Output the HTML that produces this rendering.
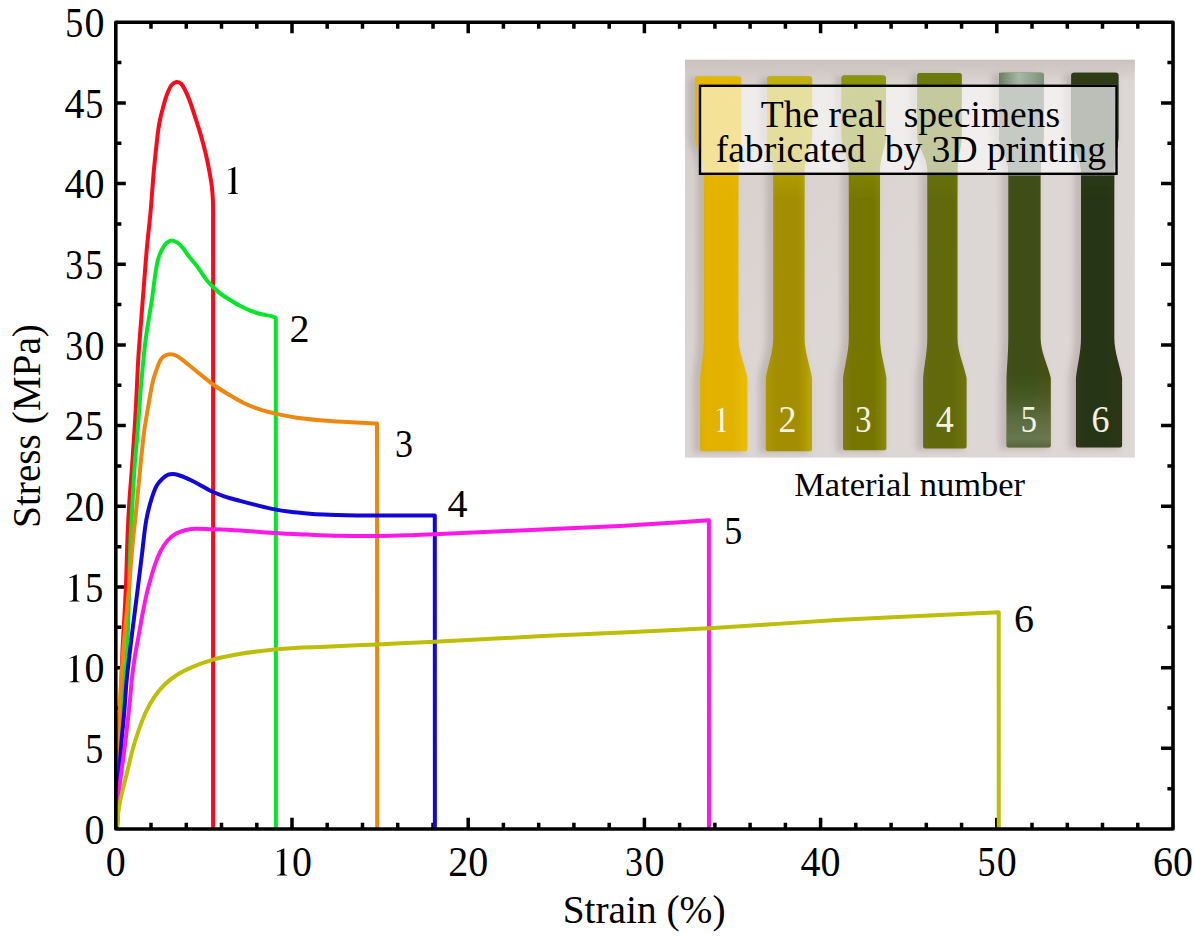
<!DOCTYPE html>
<html><head><meta charset="utf-8"><style>
html,body{margin:0;padding:0;background:#fff;overflow:hidden;width:1194px;height:939px;}
svg{display:block;}
text{font-family:"Liberation Serif",serif;fill:#000;}
</style></head><body>
<svg width="1194" height="939" viewBox="0 0 1194 939">
<defs><linearGradient id="bg" x1="0" y1="0" x2="1" y2="1"><stop offset="0" stop-color="#d6cfcc"/><stop offset="0.5" stop-color="#dcd6d4"/><stop offset="1" stop-color="#ddd7d5"/></linearGradient><linearGradient id="bgtop" x1="0" y1="0" x2="0" y2="1"><stop offset="0" stop-color="#c8c0bc" stop-opacity="0.9"/><stop offset="1" stop-color="#c8c0bc" stop-opacity="0"/></linearGradient><filter id="blur3" x="-20%" y="-5%" width="140%" height="110%"><feGaussianBlur stdDeviation="3"/></filter><filter id="blur1" x="-5%" y="-5%" width="110%" height="110%"><feGaussianBlur stdDeviation="0.6"/></filter><linearGradient id="g5hl" x1="0" y1="0" x2="0" y2="1"><stop offset="0" stop-color="#8c9c8a" stop-opacity="0"/><stop offset="0.3" stop-color="#8c9c8a" stop-opacity="0.12"/><stop offset="0.6" stop-color="#98a896" stop-opacity="0.32"/><stop offset="0.88" stop-color="#a0b09e" stop-opacity="0.42"/><stop offset="1" stop-color="#8c9c8a" stop-opacity="0.3"/></linearGradient><linearGradient id="g5top" x1="0" y1="0" x2="1" y2="0"><stop offset="0" stop-color="#6a7e62"/><stop offset="0.45" stop-color="#a8b8a8"/><stop offset="1" stop-color="#7e9078"/></linearGradient><linearGradient id="sg0" x1="0" y1="0" x2="1" y2="0"><stop offset="0" stop-color="#dcaa00"/><stop offset="0.25" stop-color="#e2b200"/><stop offset="0.7" stop-color="#e2b200"/><stop offset="1" stop-color="#eabe02"/></linearGradient><linearGradient id="sg1" x1="0" y1="0" x2="1" y2="0"><stop offset="0" stop-color="#ae9806"/><stop offset="0.25" stop-color="#a28e02"/><stop offset="0.7" stop-color="#a28e02"/><stop offset="1" stop-color="#bca808"/></linearGradient><linearGradient id="sg2" x1="0" y1="0" x2="1" y2="0"><stop offset="0" stop-color="#847a10"/><stop offset="0.25" stop-color="#747602"/><stop offset="0.7" stop-color="#747602"/><stop offset="1" stop-color="#8a8a0a"/></linearGradient><linearGradient id="sg3" x1="0" y1="0" x2="1" y2="0"><stop offset="0" stop-color="#666a24"/><stop offset="0.25" stop-color="#616a0e"/><stop offset="0.7" stop-color="#616a0e"/><stop offset="1" stop-color="#6e7406"/></linearGradient><linearGradient id="sg4" x1="0" y1="0" x2="1" y2="0"><stop offset="0" stop-color="#4a4c18"/><stop offset="0.25" stop-color="#3e5014"/><stop offset="0.7" stop-color="#3e5014"/><stop offset="1" stop-color="#4a5010"/></linearGradient><linearGradient id="sg5" x1="0" y1="0" x2="1" y2="0"><stop offset="0" stop-color="#343826"/><stop offset="0.25" stop-color="#283414"/><stop offset="0.7" stop-color="#283414"/><stop offset="1" stop-color="#2e3412"/></linearGradient></defs>
<rect x="685.0" y="59.8" width="449.8" height="397.8" fill="url(#bg)"/>
<rect x="685.0" y="59.8" width="449.8" height="22" fill="url(#bgtop)"/>
<path d="M690.6,77.4 L735.7,77.4 Q738.2,77.4 738.2,79.9 L738.2,136 C738.2,148 735.5,156 735.5,170 L735.5,338 C735.5,352 742.2,366 744.4,378 L744.4,451.2 Q744.4,453.2 742.4,453.2 L695.2,453.2 Q693.2,453.2 693.2,451.2 L693.2,378 C694.2,366 697.0,352 697.0,338 L697.0,170 C697.0,156 688.1,148 688.1,136 L688.1,79.9 Q688.1,77.4 690.6,77.4 Z" fill="#a49a96" opacity="0.5" filter="url(#blur3)"/>
<path d="M762.5,77.4 L806.6,77.4 Q809.1,77.4 809.1,79.9 L809.1,136 C809.1,148 801.6,156 801.6,170 L801.6,338 C801.6,352 807.1,366 809.0,378 L809.0,451.2 Q809.0,453.2 807.0,453.2 L760.8,453.2 Q758.8,453.2 758.8,451.2 L758.8,378 C760.6,366 766.2,352 766.2,338 L766.2,170 C766.2,156 760.0,148 760.0,136 L760.0,79.9 Q760.0,77.4 762.5,77.4 Z" fill="#a49a96" opacity="0.5" filter="url(#blur3)"/>
<path d="M837.1,76.5 L880.3,76.5 Q882.8,76.5 882.8,79.0 L882.8,136 C882.8,148 877.0,156 877.0,170 L877.0,338 C877.0,352 881.8,366 883.4,378 L883.4,450.3 Q883.4,452.3 881.4,452.3 L838.0,452.3 Q836.0,452.3 836.0,450.3 L836.0,378 C837.5,366 841.8,352 841.8,338 L841.8,170 C841.8,156 834.6,148 834.6,136 L834.6,79.0 Q834.6,76.5 837.1,76.5 Z" fill="#a49a96" opacity="0.5" filter="url(#blur3)"/>
<path d="M912.9,74.0 L956.1,74.0 Q958.6,74.0 958.6,76.5 L958.6,136 C958.6,148 954.5,156 954.5,170 L954.5,338 C954.5,352 961.3,366 963.6,378 L963.6,448.5 Q963.6,450.5 961.6,450.5 L918.1,450.5 Q916.1,450.5 916.1,448.5 L916.1,378 C917.1,366 920.3,352 920.3,338 L920.3,170 C920.3,156 910.4,148 910.4,136 L910.4,76.5 Q910.4,74.0 912.9,74.0 Z" fill="#a49a96" opacity="0.5" filter="url(#blur3)"/>
<path d="M994.5,73.8 L1038.0,73.8 Q1040.5,73.8 1040.5,76.3 L1040.5,136 C1040.5,148 1037.6,156 1037.6,170 L1037.6,338 C1037.6,352 1045.2,366 1047.8,378 L1047.8,447.5 Q1047.8,449.5 1045.8,449.5 L1001.5,449.5 Q999.5,449.5 999.5,447.5 L999.5,378 C1000.0,366 1001.3,352 1001.3,338 L1001.3,170 C1001.3,156 992.0,148 992.0,136 L992.0,76.3 Q992.0,73.8 994.5,73.8 Z" fill="#a49a96" opacity="0.5" filter="url(#blur3)"/>
<path d="M1066.8,73.8 L1112.9,73.8 Q1115.4,73.8 1115.4,76.3 L1115.4,136 C1115.4,148 1111.3,156 1111.3,170 L1111.3,338 C1111.3,352 1117.1,366 1119.1,378 L1119.1,447.5 Q1119.1,449.5 1117.1,449.5 L1070.9,449.5 Q1068.9,449.5 1068.9,447.5 L1068.9,378 C1070.2,366 1074.0,352 1074.0,338 L1074.0,170 C1074.0,156 1064.3,148 1064.3,136 L1064.3,76.3 Q1064.3,73.8 1066.8,73.8 Z" fill="#a49a96" opacity="0.5" filter="url(#blur3)"/>
<path d="M697.6,76.4 L738.7,76.4 Q741.2,76.4 741.2,78.9 L741.2,136 C741.2,148 738.5,156 738.5,170 L738.5,338 C738.5,352 745.2,366 747.4,378 L747.4,449.2 Q747.4,451.2 745.4,451.2 L702.2,451.2 Q700.2,451.2 700.2,449.2 L700.2,378 C701.2,366 704.0,352 704.0,338 L704.0,170 C704.0,156 695.1,148 695.1,136 L695.1,78.9 Q695.1,76.4 697.6,76.4 Z" fill="url(#sg0)" filter="url(#blur1)"/>
<linearGradient id="tg0" gradientUnits="userSpaceOnUse" x1="0" y1="76.4" x2="0" y2="200"><stop offset="0" stop-color="#e4b800" stop-opacity="1"/><stop offset="0.6" stop-color="#e4b800" stop-opacity="0.8"/><stop offset="1" stop-color="#e4b800" stop-opacity="0"/></linearGradient>
<path d="M697.6,76.4 L738.7,76.4 Q741.2,76.4 741.2,78.9 L741.2,136 C741.2,148 738.5,156 738.5,170 L738.5,338 C738.5,352 745.2,366 747.4,378 L747.4,449.2 Q747.4,451.2 745.4,451.2 L702.2,451.2 Q700.2,451.2 700.2,449.2 L700.2,378 C701.2,366 704.0,352 704.0,338 L704.0,170 C704.0,156 695.1,148 695.1,136 L695.1,78.9 Q695.1,76.4 697.6,76.4 Z" fill="url(#tg0)" filter="url(#blur1)"/>
<path d="M723.27,407.43 L716.61,410.40 L716.70,410.94 L717.96,410.49 L720.03,410.04 L720.03,429.30 L719.76,430.56 L718.32,431.28 L716.70,431.46 L716.70,432.00 L725.79,432.00 L725.79,431.46 L724.44,431.28 L723.54,430.65 L723.27,429.30 Z" fill="#f6f2e2"/>
<path d="M769.5,76.4 L809.6,76.4 Q812.1,76.4 812.1,78.9 L812.1,136 C812.1,148 804.6,156 804.6,170 L804.6,338 C804.6,352 810.1,366 812.0,378 L812.0,449.2 Q812.0,451.2 810.0,451.2 L767.8,451.2 Q765.8,451.2 765.8,449.2 L765.8,378 C767.6,366 773.2,352 773.2,338 L773.2,170 C773.2,156 767.0,148 767.0,136 L767.0,78.9 Q767.0,76.4 769.5,76.4 Z" fill="url(#sg1)" filter="url(#blur1)"/>
<linearGradient id="tg1" gradientUnits="userSpaceOnUse" x1="0" y1="76.4" x2="0" y2="200"><stop offset="0" stop-color="#c2b010" stop-opacity="1"/><stop offset="0.6" stop-color="#c2b010" stop-opacity="0.8"/><stop offset="1" stop-color="#c2b010" stop-opacity="0"/></linearGradient>
<path d="M769.5,76.4 L809.6,76.4 Q812.1,76.4 812.1,78.9 L812.1,136 C812.1,148 804.6,156 804.6,170 L804.6,338 C804.6,352 810.1,366 812.0,378 L812.0,449.2 Q812.0,451.2 810.0,451.2 L767.8,451.2 Q765.8,451.2 765.8,449.2 L765.8,378 C767.6,366 773.2,352 773.2,338 L773.2,170 C773.2,156 767.0,148 767.0,136 L767.0,78.9 Q767.0,76.4 769.5,76.4 Z" fill="url(#tg1)" filter="url(#blur1)"/>
<text transform="translate(787.60,432.00) scale(1.000,1.065)" x="0" y="0" text-anchor="middle" font-family="Liberation Serif" font-size="36.0" style="fill:#f6f2e2">2</text>
<path d="M844.1,75.5 L883.3,75.5 Q885.8,75.5 885.8,78.0 L885.8,136 C885.8,148 880.0,156 880.0,170 L880.0,338 C880.0,352 884.8,366 886.4,378 L886.4,448.3 Q886.4,450.3 884.4,450.3 L845.0,450.3 Q843.0,450.3 843.0,448.3 L843.0,378 C844.5,366 848.8,352 848.8,338 L848.8,170 C848.8,156 841.6,148 841.6,136 L841.6,78.0 Q841.6,75.5 844.1,75.5 Z" fill="url(#sg2)" filter="url(#blur1)"/>
<linearGradient id="tg2" gradientUnits="userSpaceOnUse" x1="0" y1="75.5" x2="0" y2="200"><stop offset="0" stop-color="#8c940e" stop-opacity="1"/><stop offset="0.6" stop-color="#8c940e" stop-opacity="0.8"/><stop offset="1" stop-color="#8c940e" stop-opacity="0"/></linearGradient>
<path d="M844.1,75.5 L883.3,75.5 Q885.8,75.5 885.8,78.0 L885.8,136 C885.8,148 880.0,156 880.0,170 L880.0,338 C880.0,352 884.8,366 886.4,378 L886.4,448.3 Q886.4,450.3 884.4,450.3 L845.0,450.3 Q843.0,450.3 843.0,448.3 L843.0,378 C844.5,366 848.8,352 848.8,338 L848.8,170 C848.8,156 841.6,148 841.6,136 L841.6,78.0 Q841.6,75.5 844.1,75.5 Z" fill="url(#tg2)" filter="url(#blur1)"/>
<text transform="translate(863.30,432.00) scale(0.900,1.065)" x="0" y="0" text-anchor="middle" font-family="Liberation Serif" font-size="36.0" style="fill:#f6f2e2">3</text>
<path d="M919.9,73.0 L959.1,73.0 Q961.6,73.0 961.6,75.5 L961.6,136 C961.6,148 957.5,156 957.5,170 L957.5,338 C957.5,352 964.3,366 966.6,378 L966.6,446.5 Q966.6,448.5 964.6,448.5 L925.1,448.5 Q923.1,448.5 923.1,446.5 L923.1,378 C924.1,366 927.3,352 927.3,338 L927.3,170 C927.3,156 917.4,148 917.4,136 L917.4,75.5 Q917.4,73.0 919.9,73.0 Z" fill="url(#sg3)" filter="url(#blur1)"/>
<linearGradient id="tg3" gradientUnits="userSpaceOnUse" x1="0" y1="73.0" x2="0" y2="200"><stop offset="0" stop-color="#6c7a10" stop-opacity="1"/><stop offset="0.6" stop-color="#6c7a10" stop-opacity="0.8"/><stop offset="1" stop-color="#6c7a10" stop-opacity="0"/></linearGradient>
<path d="M919.9,73.0 L959.1,73.0 Q961.6,73.0 961.6,75.5 L961.6,136 C961.6,148 957.5,156 957.5,170 L957.5,338 C957.5,352 964.3,366 966.6,378 L966.6,446.5 Q966.6,448.5 964.6,448.5 L925.1,448.5 Q923.1,448.5 923.1,446.5 L923.1,378 C924.1,366 927.3,352 927.3,338 L927.3,170 C927.3,156 917.4,148 917.4,136 L917.4,75.5 Q917.4,73.0 919.9,73.0 Z" fill="url(#tg3)" filter="url(#blur1)"/>
<text transform="translate(944.70,432.00) scale(1.000,1.065)" x="0" y="0" text-anchor="middle" font-family="Liberation Serif" font-size="36.0" style="fill:#f6f2e2">4</text>
<path d="M1001.5,72.8 L1041.0,72.8 Q1043.5,72.8 1043.5,75.3 L1043.5,136 C1043.5,148 1040.6,156 1040.6,170 L1040.6,338 C1040.6,352 1048.2,366 1050.8,378 L1050.8,445.5 Q1050.8,447.5 1048.8,447.5 L1008.5,447.5 Q1006.5,447.5 1006.5,445.5 L1006.5,378 C1007.0,366 1008.3,352 1008.3,338 L1008.3,170 C1008.3,156 999.0,148 999.0,136 L999.0,75.3 Q999.0,72.8 1001.5,72.8 Z" fill="url(#sg4)" filter="url(#blur1)"/>
<clipPath id="cp4"><path d="M1001.5,72.8 L1041.0,72.8 Q1043.5,72.8 1043.5,75.3 L1043.5,136 C1043.5,148 1040.6,156 1040.6,170 L1040.6,338 C1040.6,352 1048.2,366 1050.8,378 L1050.8,445.5 Q1050.8,447.5 1048.8,447.5 L1008.5,447.5 Q1006.5,447.5 1006.5,445.5 L1006.5,378 C1007.0,366 1008.3,352 1008.3,338 L1008.3,170 C1008.3,156 999.0,148 999.0,136 L999.0,75.3 Q999.0,72.8 1001.5,72.8 Z"/></clipPath>
<rect x="997.0" y="84" width="48.5" height="92" fill="#6e7e6c" clip-path="url(#cp4)" filter="url(#blur1)"/>
<rect x="1006.5" y="374" width="44.3" height="73.5" fill="url(#g5hl)"/>
<rect x="999.0" y="72.8" width="44.5" height="14" fill="url(#g5top)"/>
<text transform="translate(1028.80,432.00) scale(0.900,1.065)" x="0" y="0" text-anchor="middle" font-family="Liberation Serif" font-size="36.0" style="fill:#f6f2e2">5</text>
<path d="M1073.8,72.8 L1115.9,72.8 Q1118.4,72.8 1118.4,75.3 L1118.4,136 C1118.4,148 1114.3,156 1114.3,170 L1114.3,338 C1114.3,352 1120.1,366 1122.1,378 L1122.1,445.5 Q1122.1,447.5 1120.1,447.5 L1077.9,447.5 Q1075.9,447.5 1075.9,445.5 L1075.9,378 C1077.2,366 1081.0,352 1081.0,338 L1081.0,170 C1081.0,156 1071.3,148 1071.3,136 L1071.3,75.3 Q1071.3,72.8 1073.8,72.8 Z" fill="url(#sg5)" filter="url(#blur1)"/>
<linearGradient id="tg5" gradientUnits="userSpaceOnUse" x1="0" y1="72.8" x2="0" y2="200"><stop offset="0" stop-color="#2e3c18" stop-opacity="1"/><stop offset="0.6" stop-color="#2e3c18" stop-opacity="0.8"/><stop offset="1" stop-color="#2e3c18" stop-opacity="0"/></linearGradient>
<path d="M1073.8,72.8 L1115.9,72.8 Q1118.4,72.8 1118.4,75.3 L1118.4,136 C1118.4,148 1114.3,156 1114.3,170 L1114.3,338 C1114.3,352 1120.1,366 1122.1,378 L1122.1,445.5 Q1122.1,447.5 1120.1,447.5 L1077.9,447.5 Q1075.9,447.5 1075.9,445.5 L1075.9,378 C1077.2,366 1081.0,352 1081.0,338 L1081.0,170 C1081.0,156 1071.3,148 1071.3,136 L1071.3,75.3 Q1071.3,72.8 1073.8,72.8 Z" fill="url(#tg5)" filter="url(#blur1)"/>
<clipPath id="cp5"><path d="M1073.8,72.8 L1115.9,72.8 Q1118.4,72.8 1118.4,75.3 L1118.4,136 C1118.4,148 1114.3,156 1114.3,170 L1114.3,338 C1114.3,352 1120.1,366 1122.1,378 L1122.1,445.5 Q1122.1,447.5 1120.1,447.5 L1077.9,447.5 Q1075.9,447.5 1075.9,445.5 L1075.9,378 C1077.2,366 1081.0,352 1081.0,338 L1081.0,170 C1081.0,156 1071.3,148 1071.3,136 L1071.3,75.3 Q1071.3,72.8 1073.8,72.8 Z"/></clipPath>
<rect x="1069.3" y="84" width="51.1" height="92" fill="#56604c" clip-path="url(#cp5)" filter="url(#blur1)"/>
<text transform="translate(1100.50,432.00) scale(1.000,1.065)" x="0" y="0" text-anchor="middle" font-family="Liberation Serif" font-size="36.0" style="fill:#f6f2e2">6</text>
<rect x="700" y="85.8" width="416.5" height="88" fill="#ffffff" fill-opacity="0.6" stroke="#000" stroke-width="2.4"/>
<text x="910.5" y="127.2" font-family="Liberation Serif"  font-size="37.6" text-anchor="middle" xml:space="preserve">The real  specimens</text>
<text x="910.8" y="161.7" font-family="Liberation Serif"  font-size="37.6" text-anchor="middle" xml:space="preserve">fabricated  by 3D printing</text>
<text x="909.6" y="496.4" font-family="Liberation Serif"  font-size="34.5" text-anchor="middle">Material number</text>
<path d="M151.0,829.0v-6.3 M151.0,22.3v6.4 M186.3,829.0v-6.3 M186.3,22.3v6.4 M221.5,829.0v-6.3 M221.5,22.3v6.4 M256.8,829.0v-6.3 M256.8,22.3v6.4 M292.0,829.0v-11.2 M292.0,22.3v11.0 M327.2,829.0v-6.3 M327.2,22.3v6.4 M362.5,829.0v-6.3 M362.5,22.3v6.4 M397.7,829.0v-6.3 M397.7,22.3v6.4 M433.0,829.0v-6.3 M433.0,22.3v6.4 M468.2,829.0v-11.2 M468.2,22.3v11.0 M503.4,829.0v-6.3 M503.4,22.3v6.4 M538.7,829.0v-6.3 M538.7,22.3v6.4 M573.9,829.0v-6.3 M573.9,22.3v6.4 M609.2,829.0v-6.3 M609.2,22.3v6.4 M644.4,829.0v-11.2 M644.4,22.3v11.0 M679.6,829.0v-6.3 M679.6,22.3v6.4 M714.9,829.0v-6.3 M714.9,22.3v6.4 M750.1,829.0v-6.3 M750.1,22.3v6.4 M785.4,829.0v-6.3 M785.4,22.3v6.4 M820.6,829.0v-11.2 M820.6,22.3v11.0 M855.8,829.0v-6.3 M855.8,22.3v6.4 M891.1,829.0v-6.3 M891.1,22.3v6.4 M926.3,829.0v-6.3 M926.3,22.3v6.4 M961.6,829.0v-6.3 M961.6,22.3v6.4 M996.8,829.0v-11.2 M996.8,22.3v11.0 M1032.0,829.0v-6.3 M1032.0,22.3v6.4 M1067.3,829.0v-6.3 M1067.3,22.3v6.4 M1102.5,829.0v-6.3 M1102.5,22.3v6.4 M1137.8,829.0v-6.3 M1137.8,22.3v6.4 M115.8,788.7h5.6 M1173.0,788.7h-5.6 M115.8,748.3h10.0 M1173.0,748.3h-12.0 M115.8,708.0h5.6 M1173.0,708.0h-5.6 M115.8,667.7h10.0 M1173.0,667.7h-12.0 M115.8,627.3h5.6 M1173.0,627.3h-5.6 M115.8,587.0h10.0 M1173.0,587.0h-12.0 M115.8,546.7h5.6 M1173.0,546.7h-5.6 M115.8,506.3h10.0 M1173.0,506.3h-12.0 M115.8,466.0h5.6 M1173.0,466.0h-5.6 M115.8,425.6h10.0 M1173.0,425.6h-12.0 M115.8,385.3h5.6 M1173.0,385.3h-5.6 M115.8,345.0h10.0 M1173.0,345.0h-12.0 M115.8,304.6h5.6 M1173.0,304.6h-5.6 M115.8,264.3h10.0 M1173.0,264.3h-12.0 M115.8,224.0h5.6 M1173.0,224.0h-5.6 M115.8,183.6h10.0 M1173.0,183.6h-12.0 M115.8,143.3h5.6 M1173.0,143.3h-5.6 M115.8,103.0h10.0 M1173.0,103.0h-12.0 M115.8,62.6h5.6 M1173.0,62.6h-5.6" stroke="#000" stroke-width="3.5" fill="none"/>
<path d="M116.80,829.00 C117.07,819.33 117.30,810.44 117.60,800.00 C117.95,787.74 118.35,773.33 118.80,760.00 C119.25,746.67 119.78,735.19 120.30,720.00 C120.99,699.91 121.69,668.46 122.50,650.00 C123.03,637.91 123.64,630.20 124.20,620.00 C124.78,609.38 125.37,599.87 125.90,587.50 C126.60,571.05 127.07,546.37 127.80,530.00 C128.35,517.78 128.88,508.67 129.60,498.00 C130.32,487.30 131.23,478.05 132.10,465.90 C133.24,449.96 134.63,429.04 135.70,410.60 C136.77,392.17 137.57,370.17 138.50,355.30 C139.13,345.23 139.68,339.43 140.40,330.00 C141.32,318.04 142.51,303.02 143.60,289.30 C144.71,275.26 145.78,260.10 147.00,246.70 C148.10,234.70 149.40,224.60 150.50,212.60 C151.72,199.20 152.77,182.31 153.90,170.00 C154.77,160.56 155.69,152.33 156.50,145.00 C157.14,139.25 157.57,134.46 158.30,129.60 C158.96,125.18 159.74,120.91 160.60,117.00 C161.36,113.54 162.27,110.38 163.10,107.30 C163.87,104.47 164.58,101.77 165.40,99.20 C166.16,96.82 166.82,94.68 167.80,92.40 C168.86,89.95 169.96,86.80 171.60,85.00 C172.97,83.50 174.86,82.07 176.50,81.90 C177.99,81.75 179.69,82.53 181.00,83.60 C182.64,84.94 183.72,87.58 185.00,90.00 C186.54,92.91 187.92,96.16 189.40,100.00 C191.34,105.01 193.39,111.73 195.30,117.60 C197.19,123.43 199.10,129.24 200.80,135.10 C202.50,140.94 204.10,146.81 205.50,152.70 C206.89,158.55 208.12,164.50 209.20,170.30 C210.25,175.93 211.28,181.77 211.90,187.00 C212.45,191.59 212.70,195.75 212.90,200.00 C213.09,204.08 213.03,208.00 213.10,212.00 L213.1,829.0" fill="none" stroke="#f80c1c" stroke-width="4.0" stroke-linejoin="round"/>
<path d="M117.00,829.00 C117.33,819.33 117.61,810.44 118.00,800.00 C118.46,787.74 118.97,773.33 119.60,760.00 C120.23,746.66 120.95,732.88 121.80,720.00 C122.60,707.94 123.62,696.67 124.50,685.00 C125.38,673.33 126.43,662.06 127.10,650.00 C127.82,637.12 128.13,624.75 128.60,610.00 C129.18,591.76 129.44,568.68 130.20,548.80 C130.93,529.90 132.09,509.63 133.00,493.50 C133.71,480.94 134.33,469.97 135.10,460.00 C135.72,451.95 136.35,447.13 137.10,438.20 C138.29,423.98 139.80,399.99 141.30,382.90 C142.60,368.10 144.15,351.75 145.40,341.50 C146.14,335.42 146.63,332.67 147.50,327.00 C148.73,318.95 150.82,307.21 152.20,297.80 C153.49,289.02 154.42,279.47 155.60,272.30 C156.47,267.01 157.09,262.65 158.30,258.60 C159.32,255.20 160.59,252.16 162.00,249.50 C163.21,247.22 164.35,245.04 166.00,243.50 C167.53,242.07 169.48,240.56 171.40,240.40 C173.41,240.24 175.89,241.55 177.80,242.80 C179.82,244.13 181.44,246.31 183.10,248.30 C184.82,250.37 186.24,252.82 187.90,255.00 C189.54,257.16 191.31,259.21 193.00,261.30 C194.68,263.37 196.40,265.33 198.00,267.50 C199.64,269.73 201.10,272.20 202.70,274.50 C204.30,276.80 205.84,279.21 207.60,281.30 C209.29,283.30 211.03,284.90 213.00,286.80 C215.25,288.97 217.76,291.54 220.40,293.60 C223.06,295.67 225.89,297.30 228.90,299.20 C232.22,301.29 235.91,303.67 239.50,305.60 C243.01,307.49 246.59,309.29 250.20,310.70 C253.69,312.07 257.24,313.08 260.80,314.00 C264.34,314.91 268.76,315.41 271.50,316.20 C273.28,316.71 274.37,317.27 275.80,317.80 L275.9,829.0" fill="none" stroke="#06e628" stroke-width="4.0" stroke-linejoin="round"/>
<path d="M117.00,829.00 C117.20,816.00 117.38,803.81 117.60,790.00 C117.85,774.37 117.96,755.74 118.40,740.00 C118.79,725.92 119.25,714.07 120.00,700.00 C120.83,684.26 122.17,664.54 123.30,650.00 C124.18,638.72 125.07,630.20 126.00,620.00 C126.97,609.38 128.07,598.34 129.00,587.50 C129.93,576.67 130.77,564.52 131.60,555.00 C132.25,547.53 132.81,541.61 133.50,535.00 C134.18,528.48 134.89,523.38 135.70,515.60 C136.92,503.86 138.47,485.64 139.90,471.40 C141.24,458.07 142.68,442.78 144.00,432.70 C144.85,426.19 145.64,421.98 146.50,416.70 C147.34,411.52 148.27,406.10 149.10,401.30 C149.83,397.08 150.42,393.29 151.20,389.40 C151.96,385.63 152.70,381.90 153.70,378.30 C154.67,374.80 155.89,371.30 157.10,368.10 C158.20,365.17 159.09,361.98 160.60,359.80 C161.84,358.01 163.29,356.52 165.00,355.60 C166.69,354.69 168.88,354.26 170.80,354.30 C172.71,354.34 174.70,354.98 176.50,355.80 C178.38,356.65 179.85,357.96 181.80,359.40 C184.36,361.29 187.54,364.00 190.40,366.30 C193.24,368.60 196.06,370.91 198.90,373.20 C201.73,375.48 204.55,377.77 207.40,380.00 C210.22,382.21 212.72,384.30 215.90,386.50 C219.68,389.12 224.20,391.83 228.70,394.50 C233.59,397.40 238.75,400.64 244.20,403.20 C249.86,405.86 256.07,408.19 262.10,410.10 C268.01,411.97 274.11,413.32 280.00,414.60 C285.67,415.83 290.22,416.77 296.80,417.70 C306.04,419.00 318.20,420.07 330.30,421.00 C344.57,422.10 361.43,422.73 377.00,423.60 L377.2,829.0" fill="none" stroke="#ec8810" stroke-width="4.0" stroke-linejoin="round"/>
<path d="M117.00,829.00 C117.27,819.33 117.39,809.75 117.80,800.00 C118.22,790.08 118.89,779.66 119.50,770.00 C120.07,760.97 120.57,752.74 121.30,743.80 C122.06,734.42 123.14,725.07 124.00,715.00 C124.95,703.91 125.72,690.51 126.70,680.00 C127.51,671.35 128.30,664.98 129.30,656.40 C130.50,646.07 132.08,633.67 133.50,622.30 C134.92,610.93 136.38,599.57 137.80,588.20 C139.22,576.83 140.58,565.47 142.00,554.10 C143.42,542.73 144.42,530.04 146.30,520.00 C147.81,511.90 149.70,504.53 151.70,498.30 C153.27,493.41 154.81,488.90 156.80,485.50 C158.33,482.89 159.96,481.01 161.90,479.20 C163.80,477.42 166.19,475.51 168.30,474.70 C170.01,474.05 171.54,473.98 173.40,474.10 C175.72,474.24 178.48,475.12 181.10,476.00 C184.00,476.97 186.97,478.38 190.00,479.80 C193.26,481.33 196.65,483.11 200.00,484.90 C203.45,486.74 206.63,488.89 210.40,490.70 C214.62,492.72 219.40,494.63 224.20,496.30 C229.25,498.05 234.59,499.41 240.00,500.90 C245.65,502.45 251.70,504.01 257.40,505.40 C262.86,506.73 268.06,508.04 273.50,509.10 C279.02,510.18 284.70,511.07 290.30,511.80 C295.86,512.53 301.42,513.03 307.00,513.50 C312.59,513.97 317.24,514.31 323.80,514.60 C333.06,515.01 347.55,515.24 357.30,515.40 C364.85,515.53 370.03,515.58 377.40,515.60 C386.42,515.63 397.71,515.53 407.50,515.50 C416.82,515.47 425.70,515.43 434.80,515.40 L434.9,829.0" fill="none" stroke="#1206d8" stroke-width="4.0" stroke-linejoin="round"/>
<path d="M117.00,829.00 C117.20,822.67 117.31,815.73 117.60,810.00 C117.84,805.25 118.10,801.62 118.50,797.00 C118.96,791.71 119.63,785.52 120.30,780.00 C120.94,774.73 121.67,770.04 122.40,764.60 C123.23,758.46 124.17,751.73 125.00,745.00 C125.88,737.88 126.68,730.42 127.50,723.00 C128.34,715.42 129.26,707.40 130.00,700.00 C130.69,693.10 131.07,686.68 131.80,680.00 C132.53,673.28 133.33,666.80 134.40,659.80 C135.56,652.16 137.18,643.87 138.60,635.90 C140.02,627.93 141.41,619.64 142.90,612.00 C144.28,604.92 145.68,597.90 147.20,591.60 C148.53,586.09 149.94,581.16 151.40,576.20 C152.78,571.51 154.09,566.94 155.70,562.60 C157.24,558.46 158.78,554.43 160.80,550.70 C162.76,547.07 164.96,543.40 167.60,540.50 C170.10,537.76 173.09,535.34 176.10,533.60 C178.91,531.98 181.92,531.00 185.00,530.20 C188.14,529.39 191.10,529.02 194.80,528.80 C199.58,528.52 205.04,528.99 211.30,529.20 C219.55,529.47 230.07,529.81 240.00,530.40 C250.74,531.04 262.33,532.30 273.50,533.00 C284.66,533.70 295.83,534.13 307.00,534.60 C318.17,535.07 329.06,535.56 340.50,535.80 C352.50,536.05 365.73,536.10 377.40,536.00 C387.94,535.91 397.28,535.64 407.50,535.30 C418.13,534.95 426.77,534.47 440.00,533.90 C460.76,533.00 491.85,531.65 520.00,530.40 C551.48,529.00 587.65,527.65 620.00,525.90 C650.51,524.25 679.27,522.17 708.90,520.30 L709.0,829.0" fill="none" stroke="#fc18e6" stroke-width="4.0" stroke-linejoin="round"/>
<path d="M117.00,829.00 C117.13,826.00 117.09,823.42 117.40,820.00 C117.82,815.42 118.67,809.18 119.60,804.00 C120.49,799.03 121.62,794.49 122.80,789.50 C124.07,784.14 125.52,778.88 127.00,772.90 C128.73,765.88 130.45,757.41 132.50,750.00 C134.47,742.89 136.62,735.98 139.00,729.30 C141.30,722.86 143.69,716.35 146.50,710.60 C149.07,705.33 151.83,700.48 155.00,696.00 C158.03,691.71 161.37,687.71 165.00,684.20 C168.52,680.80 172.23,677.90 176.40,675.20 C180.82,672.33 185.55,669.96 190.90,667.60 C197.10,664.86 204.22,662.24 211.60,660.10 C219.75,657.73 228.32,655.96 237.80,654.30 C248.85,652.36 262.73,650.76 274.00,649.60 C283.84,648.59 293.42,647.93 301.70,647.50 C308.43,647.15 312.21,647.28 320.00,647.00 C333.79,646.50 358.20,645.27 377.30,644.40 C396.40,643.53 412.49,642.88 434.60,641.80 C464.99,640.31 502.86,638.09 542.80,636.10 C592.32,633.64 657.04,631.21 709.20,628.30 C755.54,625.71 794.60,622.38 840.40,619.80 C890.68,616.96 945.93,614.73 998.70,612.20 L998.8,829.0" fill="none" stroke="#bcbe08" stroke-width="4.0" stroke-linejoin="round"/>
<rect x="115.8" y="22.3" width="1057.2" height="806.7" fill="none" stroke="#000" stroke-width="3.6" stroke-linejoin="round"/>
<text transform="translate(94.50,843.60) scale(1.000,1.065)" x="0" y="0" text-anchor="middle" font-family="Liberation Serif" font-size="40.0">0</text>
<text transform="translate(94.20,762.93) scale(0.900,1.065)" x="0" y="0" text-anchor="middle" font-family="Liberation Serif" font-size="40.0">5</text>
<path d="M76.80,654.96 L69.40,658.26 L69.50,658.86 L70.90,658.36 L73.20,657.86 L73.20,679.26 L72.90,680.66 L71.30,681.46 L69.50,681.66 L69.50,682.26 L79.60,682.26 L79.60,681.66 L78.10,681.46 L77.10,680.76 L76.80,679.26 Z" fill="#000"/><text transform="translate(94.50,682.26) scale(1.000,1.065)" x="0" y="0" text-anchor="middle" font-family="Liberation Serif" font-size="40.0">0</text>
<path d="M76.80,574.29 L69.40,577.59 L69.50,578.19 L70.90,577.69 L73.20,577.19 L73.20,598.59 L72.90,599.99 L71.30,600.79 L69.50,600.99 L69.50,601.59 L79.60,601.59 L79.60,600.99 L78.10,600.79 L77.10,600.09 L76.80,598.59 Z" fill="#000"/><text transform="translate(94.20,601.59) scale(0.900,1.065)" x="0" y="0" text-anchor="middle" font-family="Liberation Serif" font-size="40.0">5</text>
<text transform="translate(74.50,520.92) scale(1.000,1.065)" x="0" y="0" text-anchor="middle" font-family="Liberation Serif" font-size="40.0">2</text><text transform="translate(94.50,520.92) scale(1.000,1.065)" x="0" y="0" text-anchor="middle" font-family="Liberation Serif" font-size="40.0">0</text>
<text transform="translate(74.50,440.25) scale(1.000,1.065)" x="0" y="0" text-anchor="middle" font-family="Liberation Serif" font-size="40.0">2</text><text transform="translate(94.20,440.25) scale(0.900,1.065)" x="0" y="0" text-anchor="middle" font-family="Liberation Serif" font-size="40.0">5</text>
<text transform="translate(74.20,359.58) scale(0.900,1.065)" x="0" y="0" text-anchor="middle" font-family="Liberation Serif" font-size="40.0">3</text><text transform="translate(94.50,359.58) scale(1.000,1.065)" x="0" y="0" text-anchor="middle" font-family="Liberation Serif" font-size="40.0">0</text>
<text transform="translate(74.20,278.91) scale(0.900,1.065)" x="0" y="0" text-anchor="middle" font-family="Liberation Serif" font-size="40.0">3</text><text transform="translate(94.20,278.91) scale(0.900,1.065)" x="0" y="0" text-anchor="middle" font-family="Liberation Serif" font-size="40.0">5</text>
<text transform="translate(74.50,198.24) scale(1.000,1.065)" x="0" y="0" text-anchor="middle" font-family="Liberation Serif" font-size="40.0">4</text><text transform="translate(94.50,198.24) scale(1.000,1.065)" x="0" y="0" text-anchor="middle" font-family="Liberation Serif" font-size="40.0">0</text>
<text transform="translate(74.50,117.57) scale(1.000,1.065)" x="0" y="0" text-anchor="middle" font-family="Liberation Serif" font-size="40.0">4</text><text transform="translate(94.20,117.57) scale(0.900,1.065)" x="0" y="0" text-anchor="middle" font-family="Liberation Serif" font-size="40.0">5</text>
<text transform="translate(74.20,36.90) scale(0.900,1.065)" x="0" y="0" text-anchor="middle" font-family="Liberation Serif" font-size="40.0">5</text><text transform="translate(94.50,36.90) scale(1.000,1.065)" x="0" y="0" text-anchor="middle" font-family="Liberation Serif" font-size="40.0">0</text>
<text transform="translate(115.80,875.60) scale(1.000,1.065)" x="0" y="0" text-anchor="middle" font-family="Liberation Serif" font-size="40.0">0</text>
<path d="M284.30,848.30 L276.90,851.60 L277.00,852.20 L278.40,851.70 L280.70,851.20 L280.70,872.60 L280.40,874.00 L278.80,874.80 L277.00,875.00 L277.00,875.60 L287.10,875.60 L287.10,875.00 L285.60,874.80 L284.60,874.10 L284.30,872.60 Z" fill="#000"/><text transform="translate(302.00,875.60) scale(1.000,1.065)" x="0" y="0" text-anchor="middle" font-family="Liberation Serif" font-size="40.0">0</text>
<text transform="translate(458.20,875.60) scale(1.000,1.065)" x="0" y="0" text-anchor="middle" font-family="Liberation Serif" font-size="40.0">2</text><text transform="translate(478.20,875.60) scale(1.000,1.065)" x="0" y="0" text-anchor="middle" font-family="Liberation Serif" font-size="40.0">0</text>
<text transform="translate(634.10,875.60) scale(0.900,1.065)" x="0" y="0" text-anchor="middle" font-family="Liberation Serif" font-size="40.0">3</text><text transform="translate(654.40,875.60) scale(1.000,1.065)" x="0" y="0" text-anchor="middle" font-family="Liberation Serif" font-size="40.0">0</text>
<text transform="translate(810.60,875.60) scale(1.000,1.065)" x="0" y="0" text-anchor="middle" font-family="Liberation Serif" font-size="40.0">4</text><text transform="translate(830.60,875.60) scale(1.000,1.065)" x="0" y="0" text-anchor="middle" font-family="Liberation Serif" font-size="40.0">0</text>
<text transform="translate(986.50,875.60) scale(0.900,1.065)" x="0" y="0" text-anchor="middle" font-family="Liberation Serif" font-size="40.0">5</text><text transform="translate(1006.80,875.60) scale(1.000,1.065)" x="0" y="0" text-anchor="middle" font-family="Liberation Serif" font-size="40.0">0</text>
<text transform="translate(1163.00,875.60) scale(1.000,1.065)" x="0" y="0" text-anchor="middle" font-family="Liberation Serif" font-size="40.0">6</text><text transform="translate(1183.00,875.60) scale(1.000,1.065)" x="0" y="0" text-anchor="middle" font-family="Liberation Serif" font-size="40.0">0</text>
<text transform="translate(644.1,923) scale(0.984,1)" x="0" y="0" font-family="Liberation Serif"  font-size="40" text-anchor="middle">Strain (%)</text>
<text transform="translate(40,426) rotate(-90) scale(0.981,1)" x="0" y="0" font-family="Liberation Serif"  font-size="40" text-anchor="middle">Stress (MPa)</text>
<path d="M235.30,166.70 L227.90,170.00 L228.00,170.60 L229.40,170.10 L231.70,169.60 L231.70,191.00 L231.40,192.40 L229.80,193.20 L228.00,193.40 L228.00,194.00 L238.10,194.00 L238.10,193.40 L236.60,193.20 L235.60,192.50 L235.30,191.00 Z" fill="#000"/>
<text transform="translate(299.50,342.30) scale(1.000,1.020)" x="0" y="0" text-anchor="middle" font-family="Liberation Serif" font-size="40.0">2</text>
<text transform="translate(403.90,456.60) scale(0.900,1.020)" x="0" y="0" text-anchor="middle" font-family="Liberation Serif" font-size="40.0">3</text>
<text transform="translate(457.50,516.50) scale(1.000,1.020)" x="0" y="0" text-anchor="middle" font-family="Liberation Serif" font-size="40.0">4</text>
<text transform="translate(733.30,543.80) scale(0.900,1.020)" x="0" y="0" text-anchor="middle" font-family="Liberation Serif" font-size="40.0">5</text>
<text transform="translate(1024.00,631.50) scale(1.000,1.020)" x="0" y="0" text-anchor="middle" font-family="Liberation Serif" font-size="40.0">6</text>
</svg>
</body></html>
